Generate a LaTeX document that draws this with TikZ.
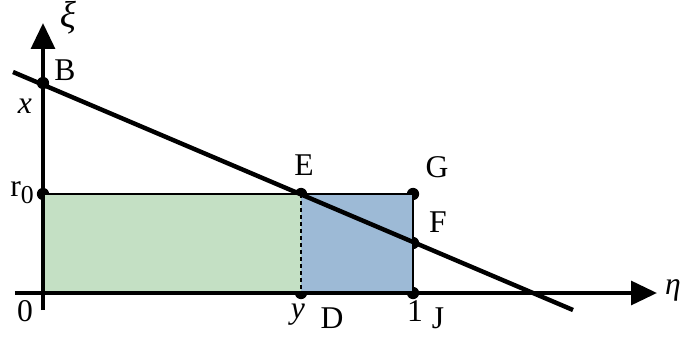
\documentclass[tikz,border=0pt]{standalone}
\usepackage{fontspec}
\setmainfont{Liberation Serif}
\usetikzlibrary{arrows.meta, positioning, calc}
\definecolor{areagreen}{RGB}{196,224,196}
\definecolor{areablue}{RGB}{157,186,214}

\begin{document}
\begin{tikzpicture}[
  x=0.03cm, y=0.03cm,
  axis/.style = {line width=3.6pt, -{Triangle[length=22pt, width=20pt]}},
  cut/.style  = {line width=3.8pt},
  edge/.style = {line width=1.7pt},
  dot/.style  = {circle, fill=black, inner sep=0pt, minimum size=10.5pt},
  lbl/.style  = {font=\fontsize{27}{30}\selectfont, inner sep=0pt},
]
  \useasboundingbox (-43,-44) rectangle (640,293);
  % points
  \coordinate (O) at (0,0);
  \node[dot] (B) at (0,210) {};
  \node[dot] (R) at (0,99) {};
  \node[dot] (E) at (258,99) {};
  \node[dot] (G) at (370,99) {};
  \node[dot] (F) at (370,50) {};
  \node[dot] (D) at (258,0) {};
  \node[dot] (J) at (370,0) {};
  \coordinate (xi0) at (0,-17);
  \coordinate (xi1) at (0,270);
  \coordinate (eta0) at (-28,0);
  \coordinate (eta1) at (614,0);
  \coordinate (l0) at (-30,221);
  \coordinate (l1) at (530,-17);
  % areas
  \fill[areagreen] (O) rectangle (E.center);
  \fill[areablue] (D.center) rectangle (G.center);
  \draw[edge] (R.center) -- (G.center) -- (J.center);
  \draw[edge, dashed] (E.center) -- (D.center);
  % axes and line
  \draw[axis] (eta0) -- (eta1);
  \draw[axis] (xi0) -- (xi1);
  \draw[cut] (l0) -- (l1);
  % labels
  \node[lbl, font=\fontsize{32}{34}\selectfont] (lxi) at (25,275) {\textit{ξ}};
  \node[lbl] (leta) at (630,3)   {\textit{η}};
  \node[lbl] (lB)   at (22,223)  {B};
  \node[lbl] (lx)   at (-18,187) {\textit{x}};
  \node[lbl] (lr)   at (-21,100) {r\raisebox{-0.5ex}{\fontsize{22}{22}\selectfont 0}};
  \node[lbl] (lO)   at (-18,-18) {0};
  \node[lbl] (lE)   at (261,128) {E};
  \node[lbl] (lG)   at (394,126) {G};
  \node[lbl] (lF)   at (395,71)  {F};
  \node[lbl] (ly)   at (255,-22) {\textit{y}};
  \node[lbl] (lD)   at (289,-25) {D};
  \node[lbl] (l1n)  at (372,-18) {1};
  \node[lbl] (lJ)   at (395,-25) {J};
\end{tikzpicture}
\end{document}
